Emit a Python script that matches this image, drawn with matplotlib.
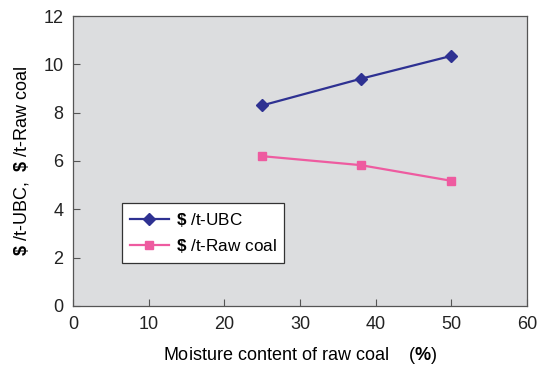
import matplotlib
matplotlib.use('Agg')
import matplotlib.pyplot as plt

# -- data -- #
moisture = [25, 38, 50]
cost_ubc = [8.3, 9.4, 10.35]
cost_raw = [6.2, 5.83, 5.18]

plt.rcParams['font.family'] = ['Liberation Sans', 'DejaVu Sans']
plt.rcParams['mathtext.fontset'] = 'custom'
plt.rcParams['mathtext.rm'] = 'Liberation Sans'
plt.rcParams['mathtext.bf'] = 'Liberation Sans:bold'

fig = plt.figure(figsize=(5.49, 3.68), dpi=100)
ax = fig.add_axes([0.133, 0.1685, 0.827, 0.788])
ax.set_facecolor('#DCDDDF')

ax.plot(moisture, cost_ubc, color='#2E3192', lw=1.6, marker='D', ms=6,
        label=r'$\mathbf{\$}$ /t-UBC')
ax.plot(moisture, cost_raw, color='#EE5BA0', lw=1.6, marker='s', ms=6,
        label=r'$\mathbf{\$}$ /t-Raw coal')

ax.set_xlim(0, 60)
ax.set_ylim(0, 12)
ax.set_xticks(range(0, 61, 10))
ax.set_yticks(range(0, 13, 2))
ax.tick_params(direction='in', length=5, width=0.8, color='#555555',
               labelsize=13, pad=7, labelcolor='#222222')
for s in ax.spines.values():
    s.set_color('#555555')
    s.set_linewidth(0.9)

ax.set_xlabel(r'Moisture content of raw coal    ($\mathbf{\%}$)', fontsize=13, labelpad=9)
ax.set_ylabel(r'$\mathbf{\$}$ /t-UBC,  $\mathbf{\$}$ /t-Raw coal', fontsize=13, labelpad=9)

leg = ax.legend(loc='upper left', bbox_to_anchor=(0.108, 0.355), fontsize=12.3,
                fancybox=False, framealpha=1, edgecolor='#333333', borderaxespad=0,
                handlelength=2.3, handletextpad=0.4, borderpad=0.45, labelspacing=0.5)
leg.get_frame().set_linewidth(0.9)

fig.savefig('out.png', dpi=100)
